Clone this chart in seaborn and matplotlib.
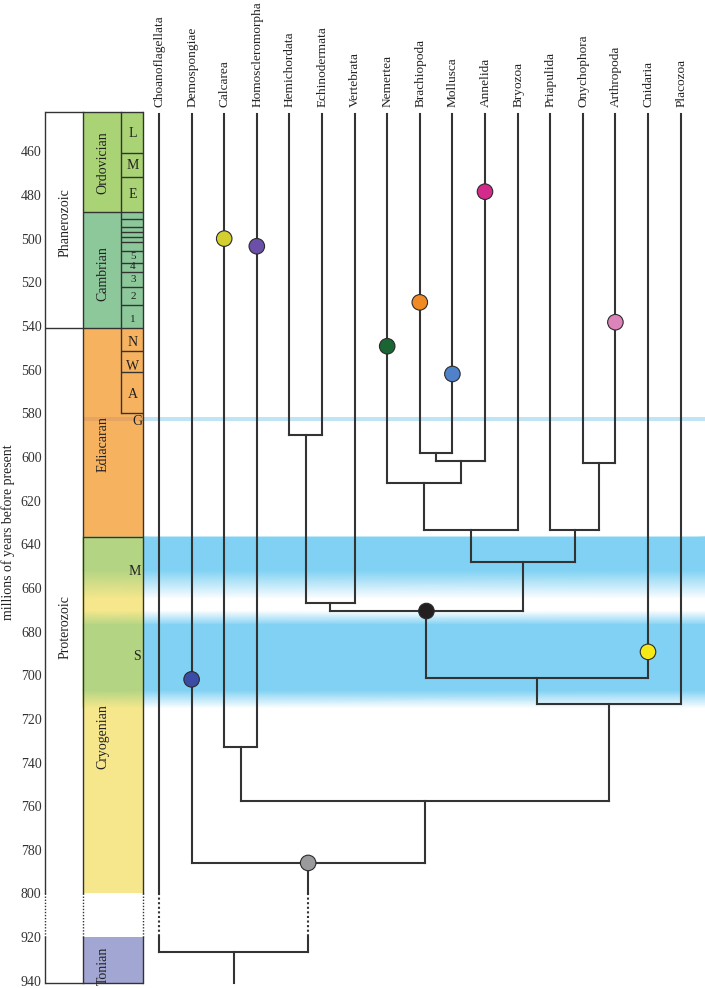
import numpy as np
import pandas as pd
import matplotlib
matplotlib.use('Agg')
import matplotlib.pyplot as plt
import seaborn as sns
from matplotlib.colors import LinearSegmentedColormap

sns.set_theme(style='white')
plt.rcParams['font.family'] = ['Liberation Serif', 'DejaVu Serif']

# --- data -------------------------------------------------------------
taxa = ['Choanoflagellata', 'Demospongiae', 'Calcarea', 'Homoscleromorpha',
        'Hemichordata', 'Echinodermata', 'Vertebrata', 'Nemertea',
        'Brachiopoda', 'Mollusca', 'Annelida', 'Bryozoa', 'Priapulida',
        'Onychophora', 'Arthropoda', 'Cnidaria', 'Placozoa']

# internal nodes (children listed before parents), ages in Ma
node_names = ['bra_mol', 'bra_mol_ann', 'nem', 'spiralia', 'ony_art', 'ecdysozoa',
              'protostomia', 'hem_ech', 'deuterostomia', 'bilateria', 'cnid',
              'plac', 'calc_homo', 'eum', 'metazoa', 'root']
node_left = ['Brachiopoda', 'bra_mol', 'Nemertea', 'nem', 'Onychophora', 'Priapulida',
             'spiralia', 'Hemichordata', 'hem_ech', 'deuterostomia', 'bilateria',
             'cnid', 'Calcarea', 'calc_homo', 'Demospongiae', 'Choanoflagellata']
node_right = ['Mollusca', 'Annelida', 'bra_mol_ann', 'Bryozoa', 'Arthropoda', 'ony_art',
              'ecdysozoa', 'Echinodermata', 'Vertebrata', 'protostomia', 'Cnidaria',
              'Placozoa', 'Homoscleromorpha', 'plac', 'eum', 'metazoa']
node_age = [598, 602, 612, 633.5, 603, 633.5, 648, 590, 667, 670.6, 701.5,
            713, 733, 757.7, 786, 927]

# first fossil appearances (coloured dots on branches)
fossil_taxa = ['Annelida', 'Calcarea', 'Homoscleromorpha', 'Brachiopoda', 'Arthropoda',
               'Nemertea', 'Mollusca', 'Cnidaria', 'Demospongiae']
fossil_age = [478.5, 500, 503.5, 529.2, 538.3, 549.3, 562, 689.3, 701.9]
fossil_color = ['#d42a8c', '#d2cf2e', '#6b50aa', '#f08a24', '#dc84ba',
                '#1b6535', '#4f82c8', '#f5ea18', '#3a4ca6']

# dated nodes with dots
node_dot_names = ['bilateria', 'metazoa']
node_dot_color = ['#231f20', '#9a9a9c']

# stratigraphy
eons = ['Phanerozoic', 'Proterozoic']
eon_top = [442, 541]
eon_base = [541, 941]
eon_label_age = [492.7, 678]

periods = ['Ordovician', 'Cambrian', 'Ediacaran', 'Cryogenian', 'Tonian']
period_top = [442, 488, 541, 636.7, 920]
period_base = [488, 541, 636.7, 800, 941]
period_color = ['#a9d374', '#8dc89b', '#f7b25f', '#f6e78c', '#a2a6d2']
period_label_age = [465, 516, 594, 728, 933]

stage_lines = [461, 472, 491.2, 494.7, 497, 499.3, 501.6, 505.7, 511,
               515.3, 522, 530.5, 551.5, 561.3, 580]
stage_labels = ['L', 'M', 'E', '5', '4', '3', '2', '1', 'N', 'W', 'A', 'G', 'M', 'S']
stage_label_age = [452, 466.3, 479.7, 508, 512.9, 518.7, 526.4, 537.1,
                   547.8, 558.5, 571.5, 583.8, 652.5, 691.5]

# glaciations: intensity profile of the shaded band
glacial_age = [636.7, 652, 665, 670.5, 677, 707, 715]
glacial_level = [1, 1, 0, 0, 1, 1, 0]
gaskiers = (581.5, 583.6)

yticks = [460, 480, 500, 520, 540, 560, 580, 600, 620, 640, 660, 680,
          700, 720, 740, 760, 780, 800, 920, 940]

# --- layout -----------------------------------------------------------
def px(p):
    # pixel column -> taxon-index units
    return (p - 159) / 32.6

X_EON_L, X_EON_R, X_SUB, X_COL_R, X_MAX = px(45), px(83), px(121), px(143), px(705)
BREAK = (800, 920)
TOP, BOTTOM = 442, 941
LINE = '#333333'


def fwd(v):
    v = np.asarray(v, dtype=float)
    return np.where(v <= 800, v, np.where(v >= 920, v - 100, 800 + (v - 800) / 6))


def inv(d):
    d = np.asarray(d, dtype=float)
    return np.where(d <= 800, d, np.where(d >= 820, d + 100, 800 + (d - 800) * 6))


fig = plt.figure(figsize=(7.05, 9.88), dpi=100)
ax = fig.add_axes([45 / 705, 5 / 988, 660 / 705, 871 / 988])


def vline(x, y0, y1, lw, z=3):
    lo, hi = min(y0, y1), max(y0, y1)
    kw = dict(color=LINE, lw=lw, zorder=z, clip_on=False, solid_capstyle='projecting')
    if hi <= BREAK[0] or lo >= BREAK[1]:
        ax.plot([x, x], [lo, hi], **kw)
        return
    ax.plot([x, x], [lo, BREAK[0]], **kw)
    ax.plot([x, x], [BREAK[0], BREAK[1]], ls=(0, (1, 1.2)), color=LINE, lw=lw, zorder=z, clip_on=False)
    ax.plot([x, x], [BREAK[1], hi], **kw)


# --- stratigraphic column --------------------------------------------
for name, t, b, c, la in zip(periods, period_top, period_base, period_color, period_label_age):
    ax.fill_between([X_EON_R, X_COL_R], t, b, color=c, lw=0, zorder=1)
    ax.text(px(103), la, name, rotation=90, ha='center', va='center', fontsize=10,
            color='#222222', zorder=6, clip_on=False)

for name, la in zip(eons, eon_label_age):
    ax.text(px(65), la, name, rotation=90, ha='center', va='center', fontsize=10,
            color='#222222', zorder=6)

# glacial shading: tree area in blue, Cryogenian column tinted green
gx_tree = np.array([[X_COL_R, X_MAX]] * len(glacial_age))
gx_col = np.array([[X_EON_R, X_COL_R]] * len(glacial_age))
gy = np.array([[a, a] for a in glacial_age])
gc = np.array([[l, l] for l in glacial_level], dtype=float)
blue_cmap = LinearSegmentedColormap.from_list('ice', ['#ffffff', '#80d1f3'])
green_cmap = LinearSegmentedColormap.from_list('ice_col', ['#f6e78c', '#b3d483'])
ax.pcolormesh(gx_tree, gy, gc, cmap=blue_cmap, vmin=0, vmax=1, shading='gouraud', zorder=1.5)
ax.pcolormesh(gx_col, gy, gc, cmap=green_cmap, vmin=0, vmax=1, shading='gouraud', zorder=1.5)

# Gaskiers glaciation
ax.fill_between([X_EON_R, X_COL_R], gaskiers[0], gaskiers[1], color='#e6a462', lw=0, zorder=1.6)
ax.fill_between([X_COL_R, X_MAX], gaskiers[0], gaskiers[1], color='#bfe4f6', lw=0, zorder=1.6)

# column frame
for x in (X_EON_L, X_EON_R, X_COL_R):
    vline(x, TOP, BOTTOM, lw=1.0)
vline(X_SUB, TOP, period_top[2], lw=1.0)
vline(X_SUB, period_top[2], stage_lines[-1], lw=1.0)
ax.hlines([TOP, BOTTOM], X_EON_L, X_COL_R, color=LINE, lw=1.0, zorder=3, clip_on=False)
ax.hlines([eon_base[0]], X_EON_L, X_COL_R, color=LINE, lw=1.0, zorder=3)
ax.hlines([period_base[0], period_base[2]], X_EON_R, X_COL_R, color=LINE, lw=1.0, zorder=3)
ax.hlines(stage_lines, X_SUB, X_COL_R, color=LINE, lw=1.0, zorder=3)

for lab, a in zip(stage_labels, stage_label_age):
    fs = 8 if lab.isdigit() else 10
    xpos = px(137) if lab in ('G', 'S') else px(133)
    if lab == 'M' and a > 600:
        xpos = px(135)
    ax.text(xpos, a, lab, ha='center', va='center', fontsize=fs, color='#222222', zorder=6)

# --- tree -------------------------------------------------------------
xpos = {t: i for i, t in enumerate(taxa)}
ypos = {t: TOP + 1 for t in taxa}
for n, l, r, a in zip(node_names, node_left, node_right, node_age):
    xpos[n] = (xpos[l] + xpos[r]) / 2
    ypos[n] = a
    ax.plot([xpos[l], xpos[r]], [a, a], color=LINE, lw=1.5, zorder=3,
            solid_capstyle='projecting')
    vline(xpos[l], ypos[l], a, lw=1.5)
    vline(xpos[r], ypos[r], a, lw=1.5)
vline(xpos['root'], ypos['root'], BOTTOM, lw=1.5)

for i, t in enumerate(taxa):
    ax.annotate(t, xy=(i, 1), xycoords=('data', 'axes fraction'), xytext=(0.5, 3.5),
                textcoords='offset points', rotation=90, ha='center', va='bottom',
                fontsize=9.6, color='#222222')

dots = pd.DataFrame({
    'x': [xpos[t] for t in fossil_taxa] + [xpos[n] for n in node_dot_names],
    'age': fossil_age + [ypos[n] for n in node_dot_names],
    'who': fossil_taxa + node_dot_names,
})
palette = dict(zip(fossil_taxa + node_dot_names, fossil_color + node_dot_color))
sns.scatterplot(data=dots, x='x', y='age', hue='who', palette=palette, s=125,
                edgecolor='#2b2b2b', linewidth=0.8, legend=False, zorder=5, ax=ax)

# --- axes -------------------------------------------------------------
ax.set_yscale('function', functions=(fwd, inv))
ax.set_xlim(X_EON_L, X_MAX)
ax.set_ylim(BOTTOM, TOP)
ax.set_yticks(yticks)
ax.set_yticklabels([str(t) for t in yticks])
ax.tick_params(axis='y', length=0, pad=2.5, labelsize=10, labelcolor='#333333')
ax.set_xticks([])
ax.set_xlabel('')
ax.set_ylabel('')
for s in ax.spines.values():
    s.set_visible(False)

fig.text(8 / 705, 1 - 532 / 988, 'millions of years before present', rotation=90,
         ha='center', va='center', fontsize=10, color='#222222')

fig.savefig('out.png', dpi=100)
